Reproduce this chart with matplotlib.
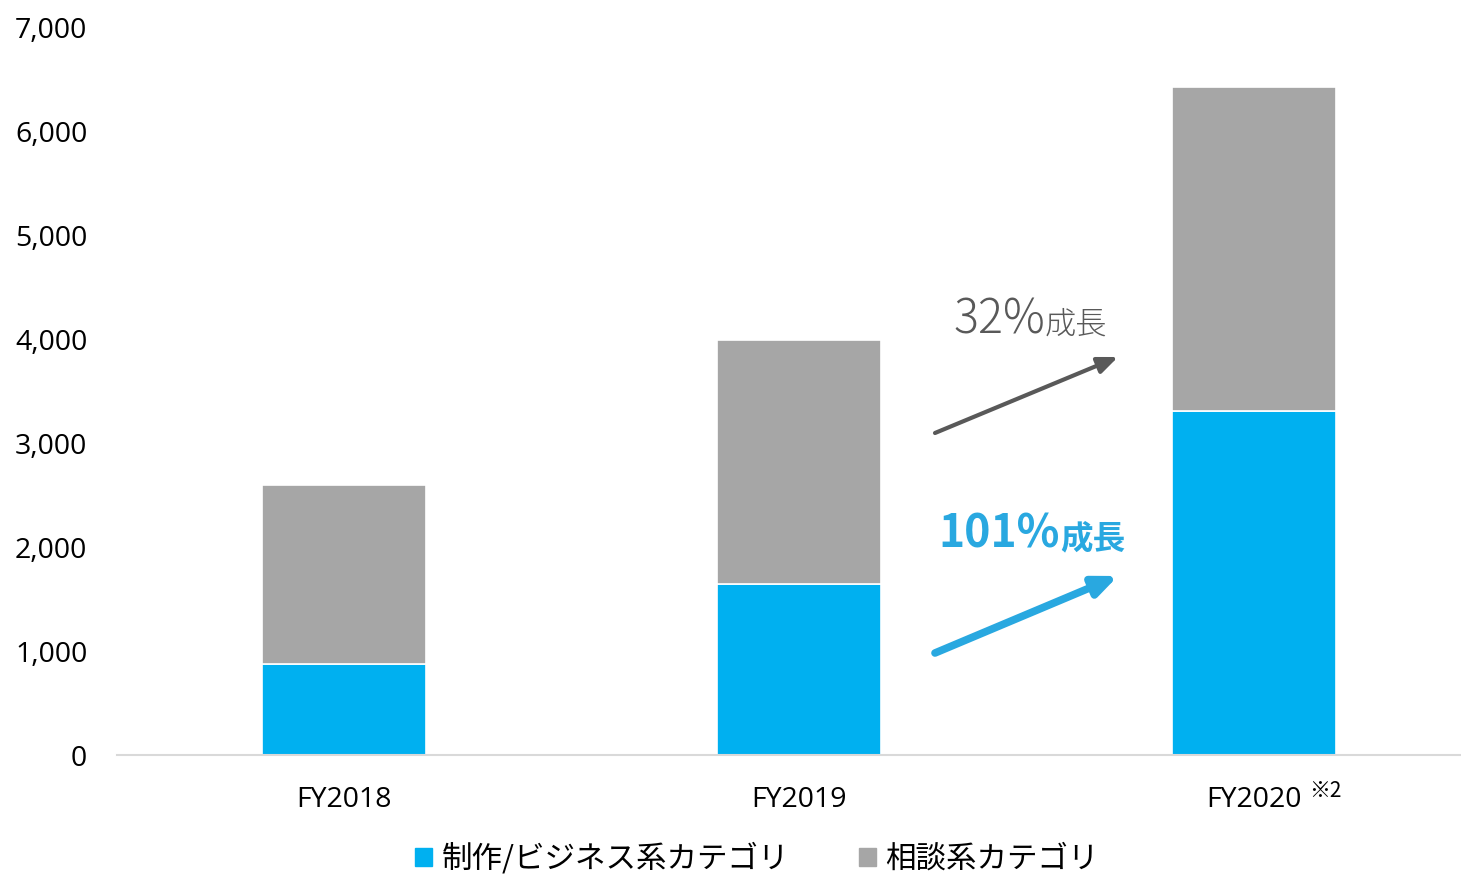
import matplotlib
matplotlib.use("Agg")
import matplotlib.pyplot as plt
from matplotlib.patches import Rectangle, FancyArrowPatch
from matplotlib.ticker import FuncFormatter

plt.rcParams['font.family'] = ['Noto Sans CJK JP', 'DejaVu Sans']

# data
years = ['FY2018', 'FY2019', 'FY2020']
production = [875, 1640, 3310]      # 制作/ビジネス系カテゴリ
consulting = [1725, 2350, 3110]     # 相談系カテゴリ
series_names = ['制作/ビジネス系カテゴリ', '相談系カテゴリ']

BLUE = '#00B0F0'
GREY = '#A6A6A6'

W, H = 1461, 874
fig = plt.figure(figsize=(W / 100, H / 100), dpi=100)
ax = fig.add_axes([116.5 / W, (H - 755) / H, (W - 116.5) / W, (755 - 27) / H])

x = list(range(len(years)))
ax.bar(x, production, width=0.36, color=BLUE, edgecolor='white', linewidth=1.2)
ax.bar(x, consulting, width=0.36, bottom=production, color=GREY,
       edgecolor='white', linewidth=1.2)

ax.set_xlim(-0.5, 2.455)
ax.set_ylim(0, 7000)
ax.set_yticks(range(0, 7001, 1000))
ax.yaxis.set_major_formatter(FuncFormatter(lambda v, p: f'{int(v):,}'))
ax.set_xticks(x)
ax.set_xticklabels(years)

for s in ['top', 'right', 'left']:
    ax.spines[s].set_visible(False)
ax.spines['bottom'].set_color('#D9D9D9')
ax.spines['bottom'].set_linewidth(1.5)
ax.tick_params(axis='both', length=0, labelsize=20.5, colors='black')
ax.tick_params(axis='y', pad=21)
ax.tick_params(axis='x', pad=22.5)
for lab in ax.get_yticklabels() + ax.get_xticklabels():
    lab.set_family(['Open Sans', 'DejaVu Sans'])


def px(xp, yp):
    return (xp / W, 1 - yp / H)


# superscript note on FY2020
fig.text(*px(1309, 791), '※2', fontsize=15, ha='left', va='center',
         family=['Noto Sans CJK JP', 'DejaVu Sans'])

# growth annotations
fig.text(*px(1045, 334), '32%', fontsize=33.5, color='#595959', ha='right',
         va='baseline', fontweight='light')
fig.text(*px(1045, 334), '成長', fontsize=22.5, color='#595959', ha='left',
         va='baseline', fontweight='light')
fig.text(*px(1060, 548), '101%', fontsize=32, color='#29A8E0', ha='right',
         va='baseline', fontweight='bold')
fig.text(*px(1060, 548), '成長', fontsize=23.5, color='#29A8E0', ha='left',
         va='baseline', fontweight='bold')

fig.add_artist(FancyArrowPatch(
    px(935, 433), px(1118, 357), transform=fig.transFigure, shrinkA=0, shrinkB=0,
    arrowstyle='-|>,head_length=12,head_width=5', color='#595959', lw=3))
fig.add_artist(FancyArrowPatch(
    px(935, 653), px(1118, 576), transform=fig.transFigure, shrinkA=0, shrinkB=0,
    arrowstyle='-|>,head_length=14,head_width=6', color='#29A8E0', lw=5.5))

handles = [Rectangle((0, 0), 1, 1, color=BLUE), Rectangle((0, 0), 1, 1, color=GREY)]
fig.legend(handles, series_names, loc='center', bbox_to_anchor=(757 / W, 1 - 859 / H),
           ncol=2, frameon=False, fontsize=22, handlelength=0.55, handleheight=0.55,
           handletextpad=0.3, columnspacing=2.3)

fig.savefig('out.png', dpi=100)
